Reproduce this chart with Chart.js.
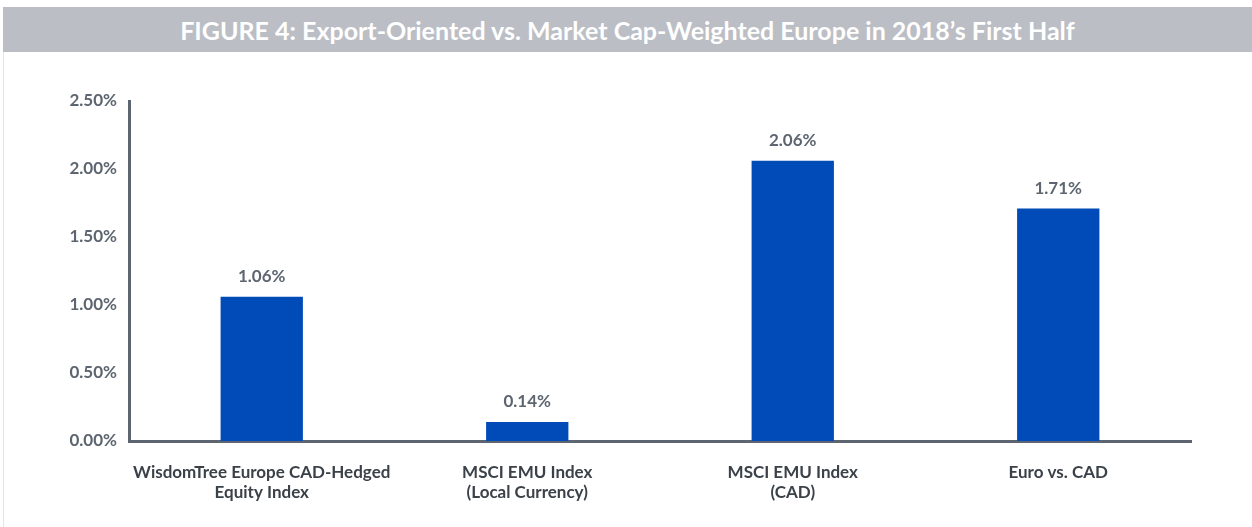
<!DOCTYPE html>
<html>
<head>
<meta charset="utf-8">
<script src="https://cdn.jsdelivr.net/npm/chart.js@4"></script>
<style>
    html, body { margin: 0; padding: 0; background: #fff; }
    #wrap { position: relative; width: 1252px; height: 527px; overflow: hidden; }
    #banner {
        position: absolute; left: 3px; top: 7px; width: 1249px; height: 45px;
        background: #bbbec5; color: #fff; text-align: center;
        font: bold 25px Lato, sans-serif; line-height: 46px;
    }
    #edge { position: absolute; left: 3px; top: 52px; width: 1px; height: 475px; background: #e4e5e8; }
    #chartBox { position: absolute; left: 0; top: 0; width: 1252px; height: 527px; }
</style>
</head>
<body>
<div id="wrap">
    <div id="chartBox"><canvas id="chart"></canvas></div>
    <div id="banner">FIGURE 4: Export-Oriented vs. Market Cap-Weighted Europe in 2018’s First Half</div>
    <div id="edge"></div>
</div>
<script>
const categories = [
    ['WisdomTree Europe CAD-Hedged', 'Equity Index'],
    ['MSCI EMU Index', '(Local Currency)'],
    ['MSCI EMU Index', '(CAD)'],
    ['Euro vs. CAD']
];
const returns = [1.06, 0.14, 2.06, 1.71];
const yTicks = [0, 0.5, 1.0, 1.5, 2.0, 2.5];

const barColor = '#004bb8';
const axisColor = '#5d6670';

const valueLabels = {
    id: 'valueLabels',
    afterDatasetsDraw(chart) {
        const ctx = chart.ctx;
        const meta = chart.getDatasetMeta(0);
        ctx.save();
        ctx.font = 'bold 17px Lato, sans-serif';
        ctx.fillStyle = axisColor;
        ctx.textAlign = 'center';
        ctx.textBaseline = 'middle';
        meta.data.forEach((bar, i) => {
            ctx.fillText(returns[i].toFixed(2) + '%', bar.x, bar.y - 20);
        });
        ctx.restore();
    }
};

new Chart(document.getElementById('chart'), {
    type: 'bar',
    data: {
        labels: categories,
        datasets: [{
            data: returns,
            backgroundColor: barColor,
            barPercentage: 0.31,
            categoryPercentage: 1
        }]
    },
    options: {
        responsive: true,
        maintainAspectRatio: false,
        animation: false,
        layout: { padding: { left: 0, top: 101, right: 61, bottom: 0 } },
        plugins: {
            legend: { display: false },
            tooltip: { enabled: false }
        },
        scales: {
            x: {
                grid: { display: false },
                border: { display: true, color: axisColor, width: 3 },
                ticks: {
                    color: '#3b4148',
                    font: { family: 'Lato', weight: 'bold', size: 17, lineHeight: 1.2 },
                    padding: 13,
                    maxRotation: 0,
                    autoSkip: false
                },
                afterFit: scale => { scale.height = 86; }
            },
            y: {
                min: 0,
                max: 2.5,
                afterBuildTicks: scale => { scale.ticks = yTicks.map(v => ({ value: v })); },
                grid: { display: false },
                border: { display: true, color: axisColor, width: 3 },
                ticks: {
                    color: axisColor,
                    font: { family: 'Lato', weight: 'bold', size: 17 },
                    padding: 4,
                    callback: v => v.toFixed(2) + '%'
                },
                afterFit: scale => { scale.width = 129; }
            }
        }
    },
    plugins: [valueLabels]
});
</script>
</body>
</html>
